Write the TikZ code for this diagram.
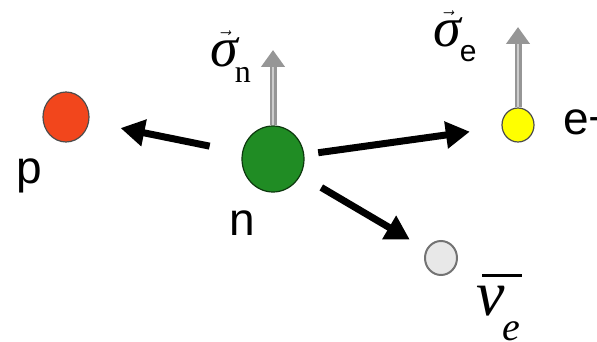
\documentclass[tikz,border=0pt]{standalone}
\usepackage{fontspec}
\setmainfont{Liberation Serif}
\setsansfont{Liberation Sans}
\usetikzlibrary{arrows.meta,shapes.geometric}
\definecolor{pred}{RGB}{242,70,28}
\definecolor{ngreen}{RGB}{32,140,36}
\definecolor{eyellow}{RGB}{255,255,0}
\definecolor{nugray}{RGB}{232,232,232}
\definecolor{spindark}{RGB}{150,150,150}
\definecolor{spinlight}{RGB}{205,205,205}
\tikzset{
  particle/.style={ellipse, inner sep=0pt, line width=1.2pt},
  momentum/.style={line width=7pt, black, -{Triangle[length=24pt,width=26pt]}},
  spinshaft/.style={line width=7pt, spindark, -{Triangle[length=17pt,width=23pt]}},
  spincore/.style={line width=2pt, spinlight},
  sanslabel/.style={font=\sffamily\fontsize{46}{46}\selectfont, inner sep=0pt},
  seriflabel/.style={inner sep=0pt}
}
\begin{document}
\begin{tikzpicture}[x=1pt,y=-1pt]
\useasboundingbox (0,0) rectangle (597,342);
% particles
\node[particle, draw=black!70, fill=pred, minimum width=46pt, minimum height=50pt] (p) at (66,117) {};
\node[particle, draw=black!60!ngreen, fill=ngreen, minimum width=62pt, minimum height=66pt] (n) at (273,159) {};
\node[particle, draw=black!70, fill=eyellow, minimum width=32pt, minimum height=34pt] (e) at (518,125) {};
\node[particle, draw=black!55, line width=2pt, fill=nugray, minimum width=32pt, minimum height=34pt] (nu) at (441,258) {};
% labels
\node[sanslabel, anchor=base] (lp) at (29,183) {p};
\node[sanslabel, anchor=base] (ln) at (242,235) {n};
\node[sanslabel, anchor=base west] (le) at (563,135) {e+};
\node[seriflabel, anchor=base west] (lsn) at (210,67) {\fontsize{56}{56}\selectfont$\vec{\mbox{\itshape σ}}$\hspace{-3pt}\raisebox{-16pt}{\fontsize{32}{32}\selectfont n}};
\node[seriflabel, anchor=base west] (lse) at (433,47) {\fontsize{56}{56}\selectfont$\vec{\mbox{\itshape σ}}$\hspace{-1pt}\raisebox{-15pt}{\sffamily\fontsize{30}{30}\selectfont e}};
\node[seriflabel, anchor=base west] (lnu) at (476,315) {\fontsize{64}{64}\selectfont\rlap{\hspace{6pt}\rule[38pt]{40pt}{3pt}}{\itshape ν}\hspace{-2pt}\raisebox{-25pt}{\fontsize{40}{40}\selectfont\itshape e}};
% spin arrows
\coordinate (sn) at (273,50);
\coordinate (se) at (518,27);
\draw[spinshaft] (n.north) -- (sn);
\draw[spincore] (n.north) -- ([yshift=-17pt]sn);
\draw[spinshaft] (e.north) -- (se);
\draw[spincore] (e.north) -- ([yshift=-17pt]se);
% momentum arrows
\draw[momentum, shorten <=33pt, shorten >=32pt] (n) -- (p);
\draw[momentum, shorten <=14pt, shorten >=32pt] (n) -- (e);
\draw[momentum, shorten <=24pt, shorten >=19pt] (n) -- (nu);
\end{tikzpicture}
\end{document}
